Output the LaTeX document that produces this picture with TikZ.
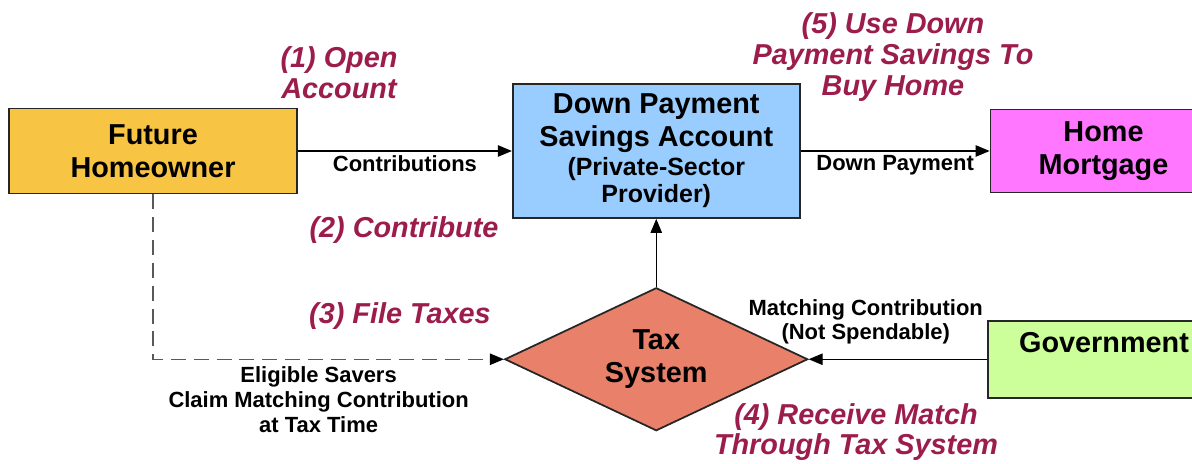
\documentclass[tikz,border=0pt]{standalone}
\usepackage{fontspec}
\setmainfont{Liberation Sans}
\usepackage{xcolor}
\usetikzlibrary{shapes,arrows.meta,positioning}

\definecolor{ownerfill}{HTML}{F8C443}
\definecolor{savefill}{HTML}{99CCFF}
\definecolor{mortfill}{HTML}{FF77FF}
\definecolor{govfill}{HTML}{CCFF99}
\definecolor{taxfill}{HTML}{E9806A}
\definecolor{stepred}{HTML}{9C1C4C}

\begin{document}
\begin{tikzpicture}[
        block/.style={rectangle, draw=black!85, line width=1pt, align=center, font=\fontsize{16.4}{18.5}\selectfont\bfseries},
        steplabel/.style={text=stepred, align=center, font=\fontsize{16.4}{17.5}\selectfont\bfseries\itshape},
        flowlabel/.style={align=center, font=\fontsize{12.5}{14}\selectfont\bfseries, inner sep=2pt},
        arrow/.style={->,>={Triangle[length=8pt,width=6.5pt,color=black]}, line width=0.8pt},
        dasharrow/.style={arrow, draw=black!65, dash pattern=on 8.5pt off 4.5pt}
    ]
        \useasboundingbox (0,0) rectangle (23.84,-9.28);

        \node[block, fill=ownerfill, minimum width=5.76cm, minimum height=1.7cm] (owner) at (3.06,-3.02) {Future\\Homeowner};
        \node[block, fill=savefill, minimum width=5.74cm, minimum height=2.68cm, right=4.28cm of owner] (savings)
            {Down Payment\\Savings Account\\[-2pt]{\fontsize{14.2}{16}\selectfont (Private-Sector}\\[-3pt]{\fontsize{14.2}{16}\selectfont Provider)}};
        \node[block, fill=mortfill, minimum width=4.52cm, minimum height=1.66cm, right=3.78cm of savings] (mortgage) {Home\\Mortgage};
        \node[block, diamond, aspect=2.1, inner sep=2pt, fill=taxfill, minimum width=6.06cm, minimum height=2.86cm, below=1.36cm of savings] (tax) {Tax\\System};
        \node[block, fill=govfill, minimum width=4.64cm, minimum height=1.54cm, right=3.57cm of tax] (gov) {Government\\\phantom{G}};

        % step labels
        \node[steplabel] (step1) at (6.78,-1.46) {(1) Open\\Account};
        \node[steplabel] (step2) at (8.08,-4.6) {(2) Contribute};
        \node[steplabel] (step3) at (8.0,-6.32) {(3) File Taxes};
        \node[steplabel] (step4) at (17.12,-8.64) {(4) Receive Match\\Through Tax System};
        \node[steplabel] (step5) at (17.86,-1.14) {(5) Use Down\\Payment Savings To\\Buy Home};

        \draw[arrow] (owner) -- node[flowlabel, below] {Contributions} (savings);
        \draw[arrow] (savings) -- node[flowlabel, below] {Down Payment} (mortgage);
        \draw[arrow] (tax) -- (savings);
        \draw[arrow] (gov) -- node[flowlabel, above=6pt, pos=.68] {Matching Contribution\\(Not Spendable)} (tax);
        \draw[dasharrow] (owner) |- node[flowlabel, below=2pt, pos=.736, text=black] {Eligible Savers\\Claim Matching Contribution\\at Tax Time} (tax);
    \end{tikzpicture}
\end{document}
